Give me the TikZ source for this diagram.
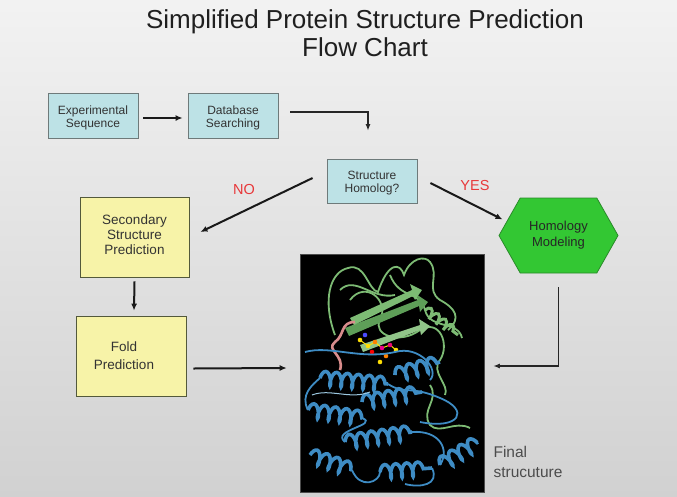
\documentclass[tikz,border=0pt]{standalone}
\usepackage{fontspec}
\setmainfont{Liberation Sans}
\usetikzlibrary{arrows.meta,shapes.symbols,decorations.pathmorphing}
\definecolor{bluebox}{HTML}{BDE2E6}
\definecolor{yelbox}{HTML}{F7F3A8}
\definecolor{hexgreen}{HTML}{33C733}
\definecolor{hexborder}{HTML}{2A8A2A}
\definecolor{boxborder}{HTML}{6E7A7A}
\definecolor{labred}{HTML}{E8383A}
\definecolor{txt}{HTML}{333333}
\definecolor{protgreen}{HTML}{7DBB74}
\definecolor{protgreenD}{HTML}{5E9E58}
\definecolor{protblue}{HTML}{3E8CC4}
\definecolor{protbluel}{HTML}{9CC8E0}
\definecolor{protpink}{HTML}{D98C8C}
\begin{document}
\begin{tikzpicture}[x=1pt,y=-1pt,
  bluenode/.style={draw=boxborder, line width=0.8pt, fill=bluebox, align=center,
    text=txt, font=\fontsize{12}{13.5}\selectfont, inner sep=0pt},
  yelnode/.style={draw=boxborder!80!yellow!60!black, line width=0.8pt, fill=yelbox, align=center,
    text=txt, font=\fontsize{13.5}{15}\selectfont, inner sep=0pt},
  hexnode/.style={signal, signal to=east and west, signal pointer angle=121,
    draw=hexborder, line width=0.8pt, fill=hexgreen, align=center, text=black!85,
    font=\fontsize{13}{16}\selectfont, inner sep=0pt},
  thick arrow/.style={line width=2pt, -{Latex[length=7pt,width=6pt]}, black!90},
  thin arrow/.style={line width=1.2pt, -{Latex[length=6.5pt,width=5pt]}, black!85},
  lbl/.style={text=labred, font=\fontsize{14.5}{16}\selectfont},
  helix/.style={protblue, line width=3.6pt, decorate,
    decoration={coil, aspect=0.35, segment length=11pt, amplitude=7pt}},
  gloop/.style={protgreen, line width=1.8pt},
  bloop/.style={protblue, line width=1.8pt}
]
\useasboundingbox (0,0) rectangle (677,496);
\shade[top color=black!5, bottom color=black!18] (0,0) rectangle (677,496);

% title
\node[align=center, font=\fontsize{26}{28}\selectfont, text=black!88] (title) at (365,33)
  {Simplified Protein Structure Prediction\\Flow Chart};

% boxes
\node[bluenode, minimum width=90pt, minimum height=45pt] (exp) at (93,115.5)
  {\rule{0pt}{13pt}Experimental\\Sequence};
\node[bluenode, minimum width=90pt, minimum height=45pt] (db) at (233,115.5)
  {\rule{0pt}{13pt}Database\\Searching};
\node[bluenode, minimum width=90pt, minimum height=44pt] (sh) at (372,181)
  {\rule{0pt}{12pt}Structure\\Homolog?};
\node[yelnode, minimum width=109pt, minimum height=80pt, text depth=4pt] (ssp) at (134.5,237)
  {Secondary\\Structure\\Prediction};
\node[yelnode, minimum width=110pt, minimum height=80pt, font=\fontsize{13.5}{18}\selectfont] (fold) at (131,356)
  {\hspace*{-14pt}Fold\\\hspace*{-14pt}Prediction};
\node[hexnode, minimum width=119pt, minimum height=75pt] (hex) at (558.5,235.5)
  {Homology\\Modeling};

% protein picture
\node[fill=black, draw=black!70, line width=0.6pt, minimum width=184pt, minimum height=238pt,
  inner sep=0pt] (img) at (392,373) {};
\begin{scope}
\clip (301,255) rectangle (483,491);
% green N-terminal domain
\draw[gloop] (335,335) .. controls (322,300) and (330,272) .. (348,268)
  .. controls (365,262) and (368,290) .. (378,292)
  .. controls (388,262) and (400,262) .. (404,275)
  .. controls (410,258) and (425,255) .. (430,262)
  .. controls (440,275) and (425,290) .. (440,300)
  .. controls (455,308) and (462,318) .. (448,330);
\draw[gloop] (350,300) .. controls (365,280) and (390,300) .. (380,320)
  .. controls (372,335) and (400,345) .. (420,330)
  .. controls (440,318) and (450,345) .. (440,360)
  .. controls (430,372) and (450,385) .. (445,395);
\draw[gloop] (390,275) .. controls (400,300) and (420,290) .. (425,310)
  .. controls (430,330) and (458,320) .. (462,338);
\draw[gloop] (340,290) .. controls (355,275) and (372,300) .. (395,295);
\fill[protgreenD] (345,328) -- (418,300) -- (416,294) -- (428,302) -- (420,312) -- (419,306) -- (349,336) -- cycle;
\fill[protgreen] (350,318) -- (412,290) -- (410,284) -- (422,290) -- (415,300) -- (413,296) -- (354,325) -- cycle;
\fill[protgreen!85!white] (360,345) -- (420,325) -- (419,319) -- (430,326) -- (421,335) -- (420,330) -- (363,352) -- cycle;
\draw[protgreen, line width=3pt, decorate, decoration={coil, aspect=0.35, segment length=9pt, amplitude=5pt}]
  (425,310) -- (458,335);
\draw[gloop] (430,385) .. controls (440,400) and (420,410) .. (430,425) .. controls (440,435) and (455,420) .. (470,428);
% pink hinge
\draw[protpink, line width=2.6pt] (355,322) .. controls (340,322) and (345,335) .. (335,342)
  .. controls (325,350) and (345,355) .. (340,370);
% ligand
\draw[yellow!80!orange, line width=1pt] (360,340) -- (368,346) -- (375,342) -- (382,348) -- (390,345) -- (396,350);
\foreach \p/\c in {(360,340)/yellow!80!orange,(368,346)/yellow!80!orange,(375,342)/orange,
  (382,348)/magenta,(390,345)/magenta!80!red,(396,350)/yellow!80!orange,(372,352)/red,
  (365,335)/blue!70,(386,356)/orange,(380,362)/yellow!80!orange}
  \fill[\c] \p circle (2.3pt);
% blue C-terminal domain
\draw[bloop] (305,352) .. controls (330,345) and (360,360) .. (395,352)
  .. controls (420,345) and (440,370) .. (430,380);
\draw[helix] (320,378) -- (388,384);
\draw[helix] (395,375) -- (440,362);
\draw[helix] (308,410) -- (362,418);
\draw[helix] (362,402) -- (422,392);
\draw[helix] (345,442) -- (412,432);
\draw[helix] (310,455) -- (352,470);
\draw[helix] (440,465) -- (478,442);
\draw[helix] (380,472) -- (432,468);
\draw[bloop] (388,384) .. controls (405,395) and (410,385) .. (440,398)
  .. controls (470,410) and (460,430) .. (420,422);
\draw[bloop] (362,418) .. controls (380,425) and (330,430) .. (345,442);
\draw[bloop] (412,432) .. controls (440,430) and (450,450) .. (440,465);
\draw[bloop] (352,470) .. controls (360,490) and (380,482) .. (380,472);
\draw[bloop] (432,468) .. controls (440,485) and (420,488) .. (405,484);
\draw[bloop] (308,410) .. controls (300,395) and (312,385) .. (320,378);
\draw[protbluel, line width=1pt] (312,395) .. controls (330,388) and (350,400) .. (370,392);
\end{scope}

% labels
\node[lbl] (no) at (244,190) {NO};
\node[lbl] (yes) at (475,186) {YES};
\node[align=left, anchor=west, text=black!70, font=\fontsize{15.5}{20}\selectfont] (final) at (490,462)
  {Final\\strucuture};

% connectors
\draw[thick arrow] ([xshift=5pt,yshift=-2.5pt]exp.east) -- ([xshift=-5pt,yshift=-2.5pt]db.west);
\draw[thin arrow] ([xshift=12pt,yshift=3.5pt]db.east) -| ([xshift=-4pt,yshift=28pt]sh.north);
\draw[thick arrow] ([xshift=-14pt,yshift=3pt]sh.west) -- ([xshift=11pt,yshift=5pt]ssp.east);
\draw[thick arrow] ([xshift=13pt,yshift=-2pt]sh.east) -- ([xshift=4pt,yshift=16pt]hex.west);
\draw[thick arrow] ([yshift=-4pt]ssp.south) -- ([xshift=3pt,yshift=5pt]fold.north);
\draw[thick arrow] ([xshift=7pt,yshift=-12.5pt]fold.east) -- ([xshift=-13pt,yshift=5pt]img.west);
\draw[thin arrow] ([yshift=-14pt]hex.south) |- ([xshift=9pt,yshift=7pt]img.east);
\end{tikzpicture}
\end{document}
